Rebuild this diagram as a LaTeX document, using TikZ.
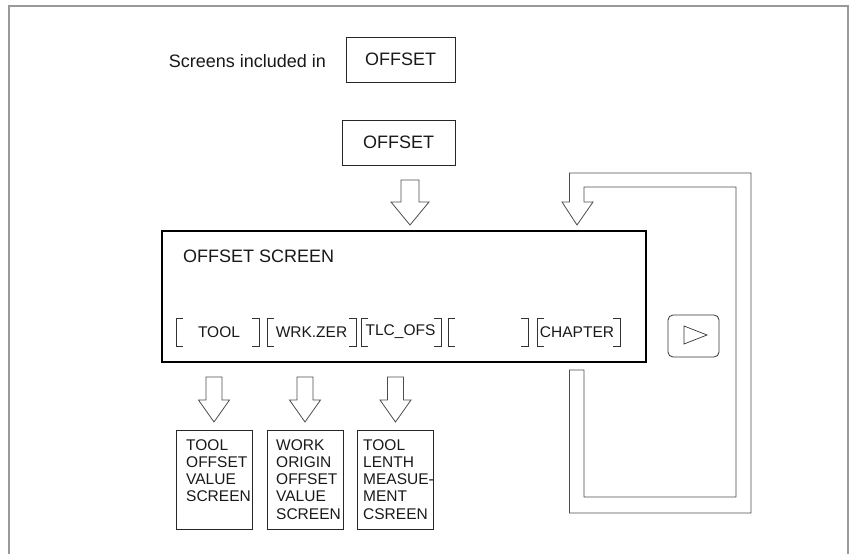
\documentclass[tikz,border=0pt]{standalone}
\usepackage{fontspec}
\setmainfont{Liberation Sans}
\newcommand\hollowdown[6]{% center x, top y, head y, tip y, half stem, half head
  \draw[arr] (#1-#5,#2) -- (#1-#5,#3) -- (#1-#6,#3) -- (#1,#4) -- (#1+#6,#3) -- (#1+#5,#3) -- (#1+#5,#2) -- cycle;}
\newcommand\lbrk[1]{\draw[brk] (#1+7,318) -- (#1,318) -- (#1,346) -- (#1+7,346);}
\newcommand\rbrk[1]{\draw[brk] (#1-7,318) -- (#1,318) -- (#1,346) -- (#1-7,346);}
\begin{document}
\begin{tikzpicture}[x=1pt,y=-1pt,
  box/.style={draw=black!85, line width=0.8pt, inner sep=0pt, text=black!90},
  arr/.style={draw=black!70, line width=0.8pt, line join=miter},
  brk/.style={draw=black!80, line width=0.7pt},
  txt/.style={text=black!90, inner sep=0pt},
  big/.style={font=\fontsize{18}{20}\selectfont},
  key/.style={txt, font=\fontsize{15.5}{17}\selectfont},
  small/.style={txt, align=left, anchor=north west, font=\fontsize{15.5}{17.25}\selectfont},
]
\useasboundingbox (0,0) rectangle (849,554);
\draw[black!40, line width=1.5pt] (9,560) -- (9,6) -- (848,6) -- (848,560);

% header
\node[txt, big] (scr) at (247.5,61) {Screens included in};
\node[box, big, minimum width=109pt, minimum height=45pt] (off1) at (400.5,59.5) {OFFSET};
\node[box, big, minimum width=113pt, minimum height=45pt] (off2) at (398.5,142.5) {OFFSET};

% main screen
\node[draw=black, line width=2pt, inner sep=0pt, minimum width=484pt, minimum height=130.5pt] (main) at (404,296.25) {};
\node[txt, big, anchor=west] (title) at (183,256) {OFFSET SCREEN};

% soft keys
\lbrk{176} \node[key] (k1) at (219,332) {TOOL}; \rbrk{259}
\lbrk{267} \node[key] (k2) at (311.5,332) {WRK.ZER}; \rbrk{356}
\lbrk{361} \node[key] (k3) at (400.5,332) {TLC\_OFS}; \rbrk{441}
\lbrk{448} \rbrk{528}
\lbrk{537} \node[key] (k5) at (577,332) {CHAPTER}; \rbrk{620}

% next-page key
\node[draw=black!80, line width=0.8pt, rounded corners=5pt, inner sep=0pt, minimum width=51pt, minimum height=42pt] (play) at (693.5,336) {};
\draw[black!80, line width=0.7pt] (684,326) -- (707,335) -- (684,344) -- cycle;

% arrow into main screen
\hollowdown{410}{180}{202}{225}{9}{19}

% loop arrow
\draw[arr] (569.5,370) -- (569.5,513) -- (751,513) -- (751,173) -- (569.5,173) -- (569.5,202)
  -- (562,202) -- (577,225) -- (593,202) -- (584,202) -- (584,187) -- (736,187)
  -- (736,497) -- (584,497) -- (584,370) -- cycle;

% arrows to sub screens
\hollowdown{214}{377}{400}{422}{8}{15.5}
\hollowdown{305}{377}{400}{422}{8}{15.5}
\hollowdown{395.5}{377}{400}{422}{8}{15.5}

% sub screens
\node[box, minimum width=76pt, minimum height=99pt] (b1) at (214,479.5) {};
\node[box, minimum width=76pt, minimum height=99pt] (b2) at (305,479.5) {};
\node[box, minimum width=76pt, minimum height=99pt] (b3) at (395,479.5) {};
\node[small] (t1) at (186,439) {TOOL\\OFFSET\\VALUE\\SCREEN};
\node[small] (t2) at (276,439) {WORK\\ORIGIN\\OFFSET\\VALUE\\SCREEN};
\node[small] (t3) at (363,439) {TOOL\\LENTH\\MEASUE-\\MENT\\CSREEN};
\end{tikzpicture}
\end{document}
